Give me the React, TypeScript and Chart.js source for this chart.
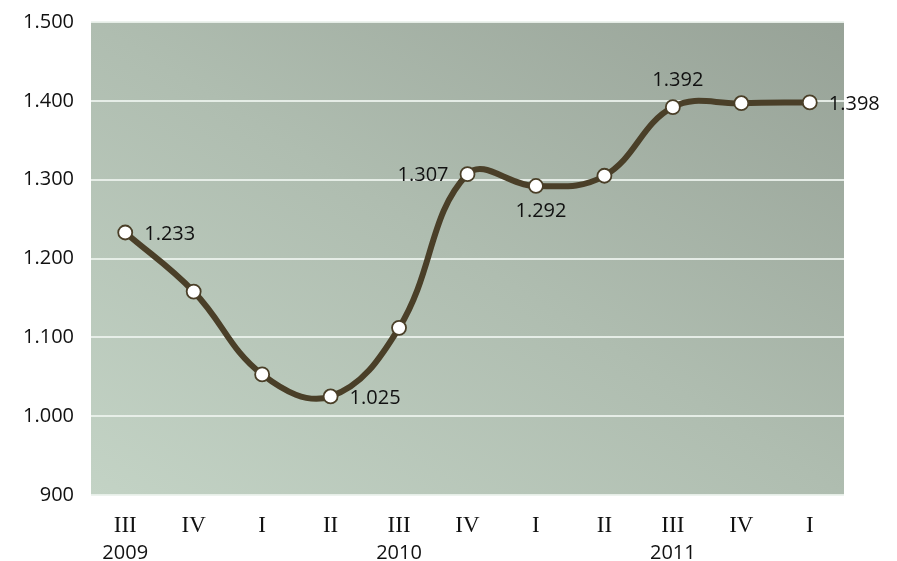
import React, { useEffect, useRef } from "react";
import { Chart, registerables } from "chart.js";

Chart.register(...registerables);

const quarters = ["III", "IV", "I", "II", "III", "IV", "I", "II", "III", "IV", "I"];
const years = ["2009", "", "", "", "2010", "", "", "", "2011", "", ""];
const values = [1233, 1158, 1053, 1025, 1112, 1307, 1292, 1305, 1392, 1397, 1398];
// label position for each point: "" = no label
const labelPos = ["right", "", "", "right", "", "left", "below", "", "above", "", "right"];
const yTicks = [900, 1000, 1100, 1200, 1300, 1400, 1500];

const fmt = (v: number) => {
  const s = String(Math.round(v));
  return s.length > 3 ? s.slice(0, s.length - 3) + "." + s.slice(-3) : s;
};

const bgPlugin = {
  id: "bgGrad",
  beforeDraw(chart: any) {
    const { ctx, chartArea: a } = chart;
    const w = a.right - a.left;
    const h = a.bottom - a.top;
    const cx = (a.left + a.right) / 2;
    const cy = (a.top + a.bottom) / 2;
    const len = Math.hypot(w, h);
    const ux = h / len;
    const uy = -w / len;
    const half = (w * h) / len;
    const g = ctx.createLinearGradient(cx - ux * half, cy - uy * half, cx + ux * half, cy + uy * half);
    g.addColorStop(0, "#c3d3c5");
    g.addColorStop(0.5, "#afbdb0");
    g.addColorStop(1, "#97a297");
    ctx.save();
    ctx.fillStyle = g;
    ctx.fillRect(a.left, a.top, w, h);
    ctx.restore();
  },
};

const labelPlugin = {
  id: "dataLabels",
  afterDatasetsDraw(chart: any) {
    const { ctx } = chart;
    const meta = chart.getDatasetMeta(0);
    ctx.save();
    ctx.font = "20px 'Open Sans'";
    ctx.fillStyle = "#111";
    ctx.textBaseline = "middle";
    meta.data.forEach((pt: any, i: number) => {
      const p = labelPos[i];
      if (!p) return;
      const t = fmt(values[i]);
      if (p === "right") {
        ctx.textAlign = "left";
        ctx.fillText(t, pt.x + 19, pt.y + 2);
      } else if (p === "left") {
        ctx.textAlign = "right";
        ctx.fillText(t, pt.x - 19, pt.y + 1);
      } else if (p === "above") {
        ctx.textAlign = "center";
        ctx.fillText(t, pt.x + 5, pt.y - 27);
      } else if (p === "below") {
        ctx.textAlign = "center";
        ctx.fillText(t, pt.x + 5, pt.y + 25);
      }
    });
    // years under quarter labels
    const xs = chart.scales.x;
    ctx.font = "20px 'Open Sans'";
    ctx.textAlign = "center";
    years.forEach((y, i) => {
      if (!y) return;
      ctx.fillText(y, xs.getPixelForValue(i), 553);
    });
    ctx.restore();
  },
};

export default function App() {
  const ref = useRef<HTMLCanvasElement>(null);
  useEffect(() => {
    if (!ref.current) return;
    const chart = new Chart(ref.current, {
      type: "line",
      data: {
        labels: quarters,
        datasets: [
          {
            data: values,
            borderColor: "#4a3f28",
            borderWidth: 6,
            tension: 0.4,
            pointRadius: 7,
            pointBackgroundColor: "#ffffff",
            pointBorderColor: "#4a3f28",
            pointBorderWidth: 1.8,
            fill: false,
          },
        ],
      },
      options: {
        animation: false,
        responsive: false,
        maintainAspectRatio: false,
        layout: { padding: { left: 0, right: 53, top: 22, bottom: 0 } },
        plugins: { legend: { display: false }, tooltip: { enabled: false } },
        scales: {
          x: {
            type: "category",
            offset: true,
            grid: { display: false, drawTicks: false },
            border: { display: false },
            ticks: {
              color: "#111",
              font: { family: "'Liberation Serif'", size: 23 },
              padding: 17,
              maxRotation: 0,
              autoSkip: false,
            },
            afterFit(scale: any) {
              scale.height = 66;
              scale.paddingLeft = 0;
              scale.paddingRight = 0;
            },
          },
          y: {
            min: 900,
            max: 1500,
            afterBuildTicks(scale: any) {
              scale.ticks = yTicks.map((v) => ({ value: v }));
            },
            grid: {
              color: "rgba(235,242,236,0.9)",
              lineWidth: 2,
              drawTicks: false,
            },
            border: { display: false },
            ticks: {
              color: "#111",
              font: { family: "'Open Sans'", size: 20 },
              padding: 17,
              callback: (v: any) => fmt(Number(v)),
            },
            afterFit(scale: any) {
              scale.width = 91;
              scale.paddingTop = 0;
              scale.paddingBottom = 0;
            },
          },
        },
      },
      plugins: [bgPlugin, labelPlugin],
    });
    return () => chart.destroy();
  }, []);
  return (
    <div style={{ position: "fixed", left: 0, top: 0, width: 897, height: 561, background: "#fff" }}>
      <canvas ref={ref} width={897} height={561} style={{ width: 897, height: 561 }} />
    </div>
  );
}
